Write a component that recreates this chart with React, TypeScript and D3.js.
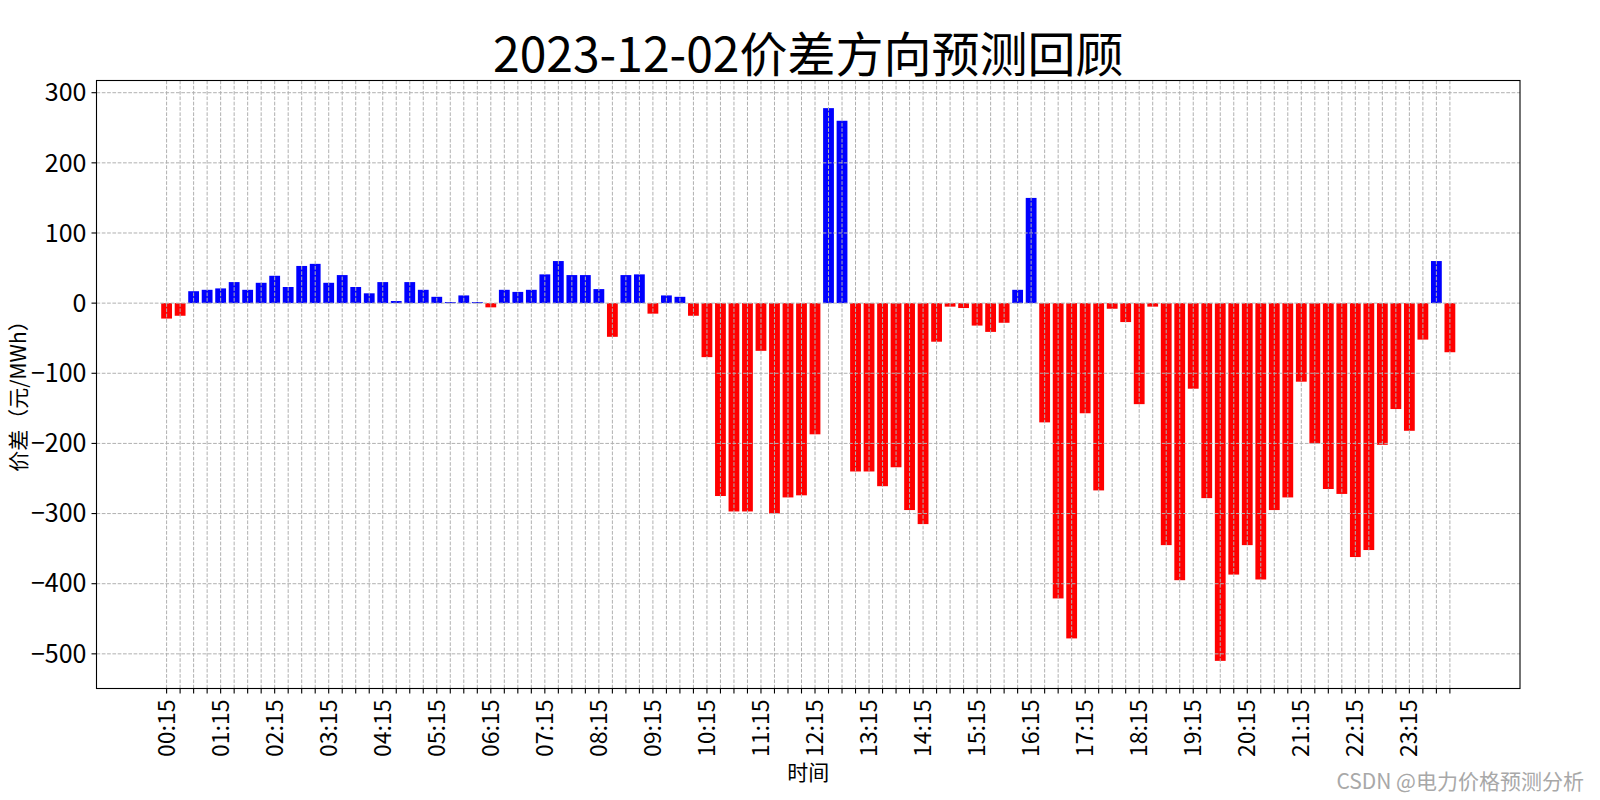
import React from "react";
import * as d3 from "d3";

const TITLE = "2023-12-02价差方向预测回顾";
const X_LABEL = "时间";
const Y_LABEL = "价差（元/MWh）";
const WATERMARK = "CSDN @电力价格预测分析";

// 96 quarter-hour slots 00:15 ... 24:00
const categories: string[] = Array.from({ length: 96 }, (_, i) => {
  const m = (i + 1) * 15;
  const h = Math.floor(m / 60);
  const mm = m % 60;
  return `${String(h).padStart(2, "0")}:${String(mm).padStart(2, "0")}`;
});

const values: number[] = [
  -22, -18, 17, 19, 21, 30, 19, 29, 39, 23,
  53, 56, 29, 40, 23, 14, 30, 3, 30, 19,
  9, 1.5, 11, 1.5, -6, 19, 16, 19, 41, 60,
  40, 40, 20, -48, 40, 41, -15, 11, 9, -18,
  -77, -275, -297, -297, -68, -300, -277, -274, -187, 278,
  260, -240, -240, -261, -234, -295, -315, -55, -5, -7,
  -32, -41, -28, 19, 150, -170, -421, -478, -157, -267,
  -8, -27, -144, -5, -345, -395, -122, -278, -510, -387,
  -345, -394, -295, -277, -112, -200, -265, -272, -362, -352,
  -202, -151, -182, -52, 60, -70,
];

const yTicks: number[] = [300, 200, 100, 0, -100, -200, -300, -400, -500];
const xTickLabelEvery = 4;

const W = 1600;
const H = 800;
const LEFT = 96.5;
const RIGHT = 1520;
const TOP = 80.5;
const BOTTOM = 688.5;
const FONT = "'Noto Sans CJK SC', 'Noto Sans', sans-serif";

export default function App() {
  const n = values.length;
  const xMinData = -0.4;
  const xMaxData = n - 1 + 0.4;
  const xm = (xMaxData - xMinData) * 0.05;
  const x = d3.scaleLinear().domain([xMinData - xm, xMaxData + xm]).range([LEFT, RIGHT]);
  const vmin = Math.min(0, d3.min(values) as number);
  const vmax = Math.max(0, d3.max(values) as number);
  const ym = (vmax - vmin) * 0.05;
  const y = d3.scaleLinear().domain([vmin - ym, vmax + ym]).range([BOTTOM, TOP]);
  const bw = x(0.8) - x(0);
  const fmt = (v: number) => (v < 0 ? "\u2212" + Math.abs(v) : String(v));
  const grid = "#b0b0b0";

  return (
    <svg
      width={W}
      height={H}
      style={{ position: "absolute", left: 0, top: 0, background: "#fff" }}
      fontFamily={FONT}
    >
      <rect x={0} y={0} width={W} height={H} fill="#fff" />
      <text x={(LEFT + RIGHT) / 2} y={72} textAnchor="middle" fontSize={48} fill="#000">
        {TITLE}
      </text>
      {/* bars */}
      {values.map((v, i) => (
        <rect
          key={"b" + i}
          x={x(i) - bw / 2}
          y={Math.min(y(v), y(0))}
          width={bw}
          height={Math.abs(y(v) - y(0))}
          fill={v >= 0 ? "#0000ff" : "#ff0000"}
        />
      ))}
      {/* grid */}
      {categories.map((_, i) => (
        <line
          key={"gx" + i}
          x1={x(i)}
          x2={x(i)}
          y1={TOP}
          y2={BOTTOM}
          stroke={grid}
          strokeWidth={1}
          strokeDasharray="3.7,1.6"
        />
      ))}
      {yTicks.map((t) => (
        <line
          key={"gy" + t}
          x1={LEFT}
          x2={RIGHT}
          y1={y(t)}
          y2={y(t)}
          stroke={grid}
          strokeWidth={1}
          strokeDasharray="3.7,1.6"
        />
      ))}
      {/* frame */}
      <rect x={LEFT} y={TOP} width={RIGHT - LEFT} height={BOTTOM - TOP} fill="none" stroke="#000" strokeWidth={1.1} />
      {/* y ticks */}
      {yTicks.map((t) => (
        <g key={"yt" + t}>
          <line x1={LEFT - 5} x2={LEFT} y1={y(t)} y2={y(t)} stroke="#000" strokeWidth={1.1} />
          <text x={LEFT - 10} y={y(t)} dy="0.35em" textAnchor="end" fontSize={25} fill="#000">
            {fmt(t)}
          </text>
        </g>
      ))}
      {/* x ticks */}
      {categories.map((c, i) => (
        <g key={"xt" + i}>
          <line x1={x(i)} x2={x(i)} y1={BOTTOM} y2={BOTTOM + 5} stroke="#000" strokeWidth={1.1} />
          {i % xTickLabelEvery === 0 && (
            <text
              transform={`translate(${x(i)},${BOTTOM + 11}) rotate(-90)`}
              textAnchor="end"
              dy="0.35em"
              fontSize={23}
              fill="#000"
            >
              {c}
            </text>
          )}
        </g>
      ))}
      <text x={(LEFT + RIGHT) / 2} y={780} textAnchor="middle" fontSize={21} fill="#000">
        {X_LABEL}
      </text>
      <text
        transform={`translate(26,391) rotate(-90)`}
        textAnchor="middle"
        fontSize={21}
        fill="#000"
      >
        {Y_LABEL}
      </text>
      <text x={1584} y={789} textAnchor="end" fontSize={21} fill="#a8a8a8">
        {WATERMARK}
      </text>
    </svg>
  );
}
